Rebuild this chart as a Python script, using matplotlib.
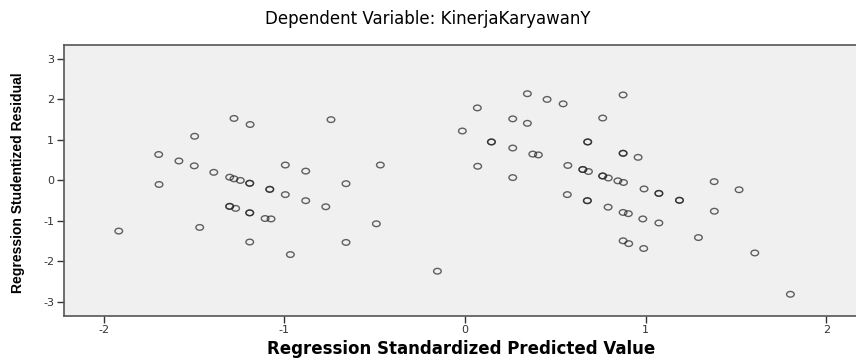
import matplotlib.pyplot as plt
from matplotlib.path import Path
from matplotlib.transforms import Affine2D

TITLE = "Dependent Variable: KinerjaKaryawanY"
X_LABEL = "Regression Standardized Predicted Value"
Y_LABEL = "Regression Studentized Residual"

# standardized predicted values (x) and studentized residuals (y)
pred = [
    -1.279, -1.190, -1.497, -1.696, -1.584, -1.499, -1.391, -1.303, -1.279, -1.244,
    -1.192, -1.192, -1.081, -1.081, -1.694, -1.303, -1.303, -1.270, -1.192, -1.192,
    -1.107, -1.074, -1.917, -1.469, -1.192, -0.742, 0.068, -0.015, -0.995, -0.882,
    -0.469, 0.070, -0.659, -0.995, -0.882, -0.771, -0.491, -0.659, -0.967, -0.153,
    0.345, 0.454, 0.543, 0.875, 0.264, 0.345, 0.762, 0.146, 0.146, 0.264,
    0.375, 0.406, 0.679, 0.679, 0.875, 0.875, 0.958, 0.264, 0.569, 0.652,
    0.652, 0.683, 0.762, 0.762, 0.793, 0.846, 0.877, 0.991, 1.073, 1.073,
    0.566, 0.677, 0.677, 0.792, 0.875, 0.904, 0.984, 1.073, 0.875, 0.906,
    0.989, 1.379, 1.517, 1.187, 1.187, 1.380, 1.292, 1.604, 1.801,
]
resid = [
    1.53, 1.38, 1.09, 0.64, 0.48, 0.36, 0.20, 0.08, 0.04, 0.00,
    -0.07, -0.07, -0.22, -0.22, -0.10, -0.64, -0.64, -0.69, -0.80, -0.80,
    -0.94, -0.95, -1.25, -1.16, -1.52, 1.50, 1.79, 1.22, 0.38, 0.23,
    0.38, 0.35, -0.08, -0.35, -0.50, -0.65, -1.07, -1.53, -1.83, -2.24,
    2.14, 2.00, 1.89, 2.11, 1.52, 1.41, 1.54, 0.95, 0.95, 0.80,
    0.65, 0.63, 0.95, 0.95, 0.67, 0.67, 0.57, 0.07, 0.37, 0.27,
    0.27, 0.22, 0.11, 0.11, 0.06, -0.01, -0.05, -0.21, -0.32, -0.32,
    -0.35, -0.50, -0.50, -0.66, -0.79, -0.82, -0.95, -1.05, -1.49, -1.56,
    -1.68, -0.03, -0.23, -0.49, -0.49, -0.76, -1.41, -1.79, -2.81,
]

x_ticks = [-2, -1, 0, 1, 2]
y_ticks = [-3, -2, -1, 0, 1, 2, 3]

plt.rcParams["font.family"] = ["Liberation Sans", "DejaVu Sans"]
plt.rcParams["axes.unicode_minus"] = False

# the reference is stretched sideways, so use a slightly wide ellipse marker
ellipse = Path.unit_circle().transformed(Affine2D().scale(1.35, 1.0))

fig = plt.figure(figsize=(8.56, 3.58), dpi=100)
ax = fig.add_axes([0.0748, 0.118, 0.93, 0.756])
ax.set_facecolor("#f0f0f0")

ax.scatter(pred, resid, marker=ellipse, s=30, facecolors="none",
           edgecolors="#222222", linewidths=1.0, alpha=0.7)

ax.set_xlim(-2.22, 2.187)
ax.set_ylim(-3.34, 3.34)
ax.set_xticks(x_ticks)
ax.set_yticks(y_ticks)
ax.tick_params(direction="out", length=5, width=1, color="#333333",
               labelsize=8, labelcolor="#333333", pad=2)
for lbl in ax.get_xticklabels() + ax.get_yticklabels():
    lbl.set_family("DejaVu Sans")
for s in ax.spines.values():
    s.set_color("#555555")
    s.set_linewidth(1.2)

# wider face for the horizontal texts, as they look stretched in the reference
fig.text(0.5, 0.947, TITLE, ha="center", va="center", fontsize=12,
         family="DejaVu Sans")
fig.text(0.5386, 0.026, X_LABEL, ha="center", va="center", fontsize=12,
         fontweight="bold", family="DejaVu Sans")
fig.text(0.021, 0.49, Y_LABEL, ha="center", va="center", fontsize=10,
         fontweight="bold", rotation=90)

fig.savefig("out.png", dpi=100)
